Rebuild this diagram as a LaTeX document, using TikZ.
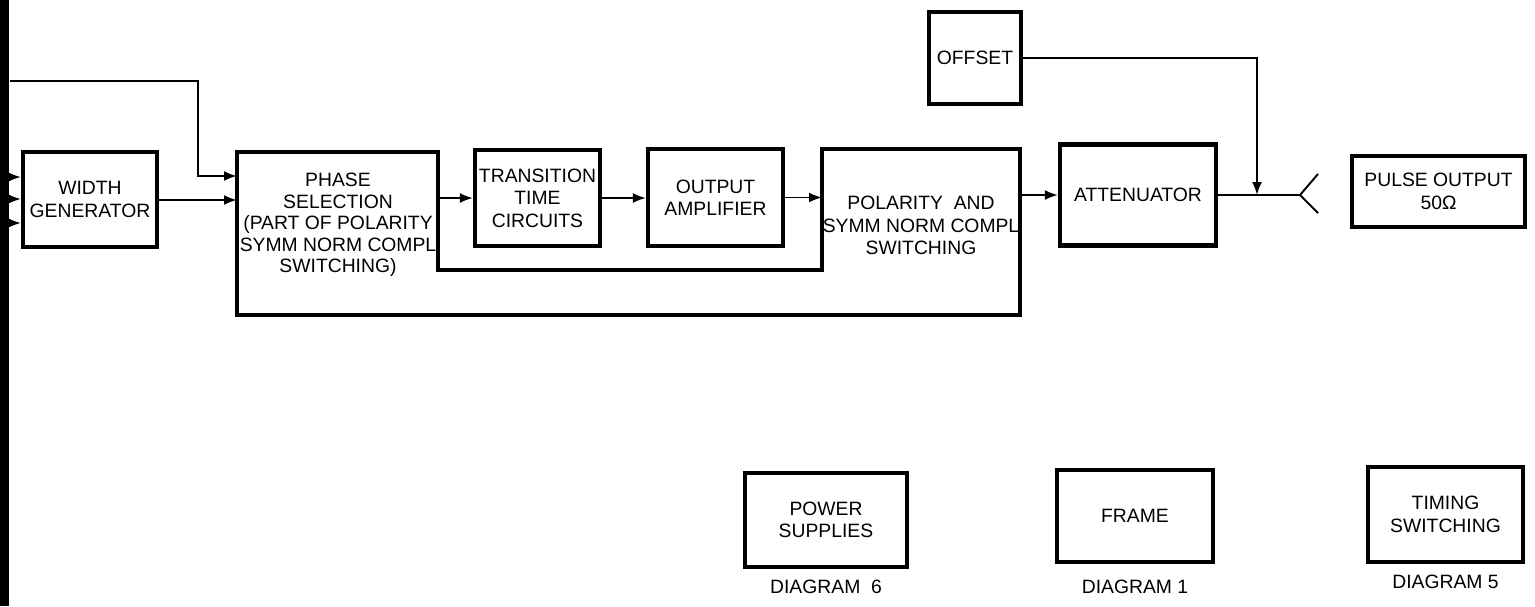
\documentclass[tikz,border=0pt]{standalone}
\usepackage{fontspec}
\setmainfont{Liberation Sans}
\usetikzlibrary{arrows.meta,positioning}

\begin{document}
\begin{tikzpicture}[x=0.02cm,y=-0.02cm,
  font=\fontsize{11}{12.8}\selectfont,
  blk/.style={draw,line width=2.4pt,align=center,inner sep=1pt},
  conn/.style={line width=1.1pt,-{Latex[length=2.6mm,width=2mm]}},
  wire/.style={line width=1.1pt}]
\useasboundingbox (0,0) rectangle (1535,606);

% bus bar at the left edge
\node[fill,inner sep=0,minimum width=0.18cm,minimum height=12.12cm,anchor=north west] (bus) at (0,0) {};

\node[blk,minimum width=2.68cm,minimum height=1.9cm] (wgen) at (90,199.5) {WIDTH\\GENERATOR};
\node[blk,minimum width=2.5cm,minimum height=1.92cm] (trans) at (537.5,198) {TRANSITION\\TIME\\CIRCUITS};
\node[blk,minimum width=2.7cm,minimum height=1.94cm] (amp) at (715.5,197.5) {OUTPUT\\AMPLIFIER};
\node[blk,minimum width=3.12cm,minimum height=2.02cm] (atten) at (1138,195) {ATTENUATOR};
\node[blk,minimum width=1.84cm,minimum height=1.84cm] (offset) at (975,58) {OFFSET};
\node[blk,minimum width=3.46cm,minimum height=1.42cm] (pulse) at (1438.5,191.5) {PULSE OUTPUT\\50Ω};

% phase selection and polarity switching share one outline
\draw[line width=2.4pt] (237,152) -- (438,152) -- (438,270) -- (822,270) -- (822,149)
  -- (1020,149) -- (1020,315) -- (237,315) -- cycle;
\node[align=center,font=\fontsize{11}{12.2}\selectfont] (phase) at (338,225)
  {PHASE\\SELECTION\\(PART OF POLARITY\\SYMM NORM COMPL\\SWITCHING)};
\node[align=center] (polar) at (921,225.5) {POLARITY\ \ AND\\SYMM NORM COMPL\\SWITCHING};

\coordinate (phIn1) at (237,176);
\coordinate (phIn2) at (237,200);
\coordinate (phOut) at (438,198);
\coordinate (polIn) at (822,197);
\coordinate (polOut) at (1020,195);
\coordinate (tap) at (1257,195);
\coordinate (jack) at (1300,195);

% other diagrams
\node[blk,minimum width=3.24cm,minimum height=1.88cm] (power) at (826,520) {POWER\\SUPPLIES};
\node[blk,minimum width=3.12cm,minimum height=1.84cm] (frame) at (1135,516) {FRAME};
\node[blk,minimum width=3.1cm,minimum height=1.9cm] (timing) at (1445.5,514.5) {TIMING\\SWITCHING};
\node[below=1mm of power] (powerd) {DIAGRAM\ \ 6};
\node[below=2mm of frame] (framed) {DIAGRAM 1};
\node[below=1mm of timing] (timingd) {DIAGRAM 5};

\foreach \yy in {177,199,223}
  \draw[conn] (bus.east |- 0,\yy) -- (wgen.west |- 0,\yy);
\draw[conn] (bus.east |- 0,81) -- ++(188,0) |- (phIn1);
\draw[conn] (wgen.east |- phIn2) -- (phIn2);
\draw[conn] (phOut) -- (trans.west |- phOut);
\draw[conn] (trans.east) -- (amp.west |- trans.east);
\draw[conn] (amp.east) -- (amp.east -| polIn);
\draw[conn] (polOut) -- (atten.west |- polOut);
\draw[wire] (atten.east) -- (jack);
\draw[conn] (offset.east) -| (tap);
\draw[wire] (jack) -- +(18,-21) (jack) -- +(18,18);
\end{tikzpicture}
\end{document}
